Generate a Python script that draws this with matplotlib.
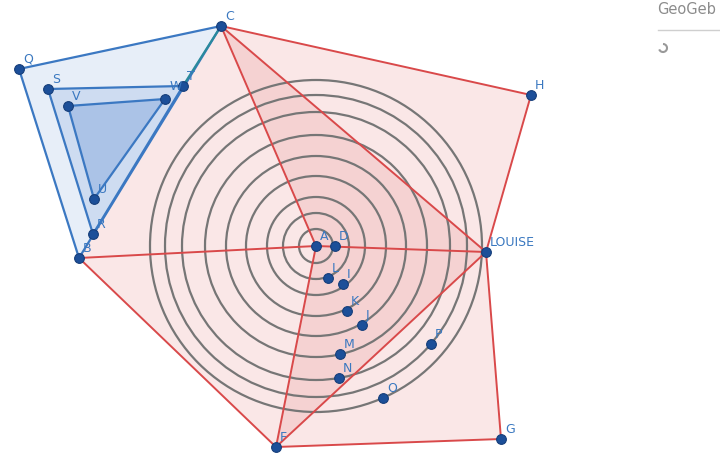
import matplotlib.pyplot as plt
from matplotlib.patches import Polygon, Circle, Arc
from matplotlib.colors import to_rgba

# 점 좌표 (화면 픽셀 기준, y는 아래로 증가)
points = {
    "A": (316, 246), "D": (335, 246), "C": (221, 26), "Q": (19, 69),
    "S": (48, 89), "V": (68, 106), "T": (183, 86), "U": (94, 199),
    "R": (93, 234), "B": (79, 258), "H": (531, 95), "LOUISE": (486, 252),
    "G": (501, 439), "F": (276, 447), "L": (328, 278), "I": (343, 284),
    "K": (347, 311), "J": (362, 325), "M": (340, 354), "N": (339, 378),
    "P": (431, 344), "O": (383, 398), "X": (165, 99),
}
label_names = ["A", "D", "C", "Q", "S", "V", "T", "U", "R", "B", "H", "LOUISE",
               "G", "F", "L", "I", "K", "J", "M", "N", "P", "O"]

# 동심원 반지름
radii = [17, 33, 49, 70, 90, 111, 134, 151, 166]

# 다각형들
red_outer = ["B", "C", "H", "LOUISE", "G", "F"]
red_tri1 = ["C", "A", "LOUISE"]
red_tri2 = ["A", "LOUISE", "F"]
blue_outer = ["Q", "C", "B"]
blue_mid = ["S", "T", "R"]
blue_inner = ["V", "X", "U"]

red = "#d9494a"
blue = "#3b78c2"
dot = "#1c4f99"
label_col = "#3a78c0"

fig = plt.figure(figsize=(7.2, 4.55), dpi=100)
ax = fig.add_axes([0, 0, 1, 1])
ax.set_xlim(0, 720)
ax.set_ylim(455, 0)
ax.axis('off')

def xy(names):
    return [points[n] for n in names]

# 빨간 다각형
ax.add_patch(Polygon(xy(red_outer), closed=True, facecolor=to_rgba(red, 0.13), edgecolor='none'))
ax.add_patch(Polygon(xy(red_tri1), closed=True, facecolor=to_rgba(red, 0.13), edgecolor='none'))
ax.add_patch(Polygon(xy(red_tri2), closed=True, facecolor=to_rgba(red, 0.13), edgecolor='none'))

# 동심원
cx, cy = points["A"]
for r in radii:
    ax.add_patch(Circle((cx, cy), r, fill=False, edgecolor="#767676", linewidth=1.6))

# 빨간 선분
red_segments = [("C", "H"), ("H", "LOUISE"), ("LOUISE", "G"), ("G", "F"), ("F", "B"),
                ("C", "A"), ("C", "LOUISE"), ("A", "LOUISE"), ("A", "F"),
                ("LOUISE", "F"), ("B", "A")]
for a, b in red_segments:
    (x1, y1), (x2, y2) = points[a], points[b]
    ax.plot([x1, x2], [y1, y2], color=red, linewidth=1.4, solid_capstyle='round')

# 파란 다각형
ax.add_patch(Polygon(xy(blue_outer), closed=True, facecolor=to_rgba("#6a98d6", 0.16),
                     edgecolor=blue, linewidth=1.6))
ax.add_patch(Polygon(xy(blue_mid), closed=True, facecolor=to_rgba("#6a98d6", 0.2),
                     edgecolor=blue, linewidth=1.6))
ax.add_patch(Polygon(xy(blue_inner), closed=True, facecolor=to_rgba("#5a8ad0", 0.3),
                     edgecolor=blue, linewidth=1.6))
# C-T 구간은 청록색
(x1, y1), (x2, y2) = points["C"], points["T"]
ax.plot([x1, x2], [y1, y2], color="#2a8a9c", linewidth=1.6)

# 점과 이름
for n, (x, y) in points.items():
    ax.plot(x, y, 'o', markersize=7, color=dot, markeredgecolor="#163e7a", markeredgewidth=0.8, zorder=5)
for n in label_names:
    x, y = points[n]
    ax.text(x + 4, y - 6, n, color=label_col, fontsize=9, zorder=6)
ax.text(points["T"][0] - 13, points["T"][1] + 4, "W", color=label_col, fontsize=9, zorder=6)

# GeoGebra 로고 부분 (오른쪽 끝에서 잘린 모양)
ax.text(657, 10, "GeoGeb", color="#8c8c8c", fontsize=10.5, va='center')
ax.plot([658, 720], [30, 30], color="#cfcfcf", linewidth=1)
ax.add_patch(Arc((663, 48), 8, 8, theta1=-90, theta2=160, color="#999999", linewidth=1.5))

fig.savefig("out.png", dpi=100)
